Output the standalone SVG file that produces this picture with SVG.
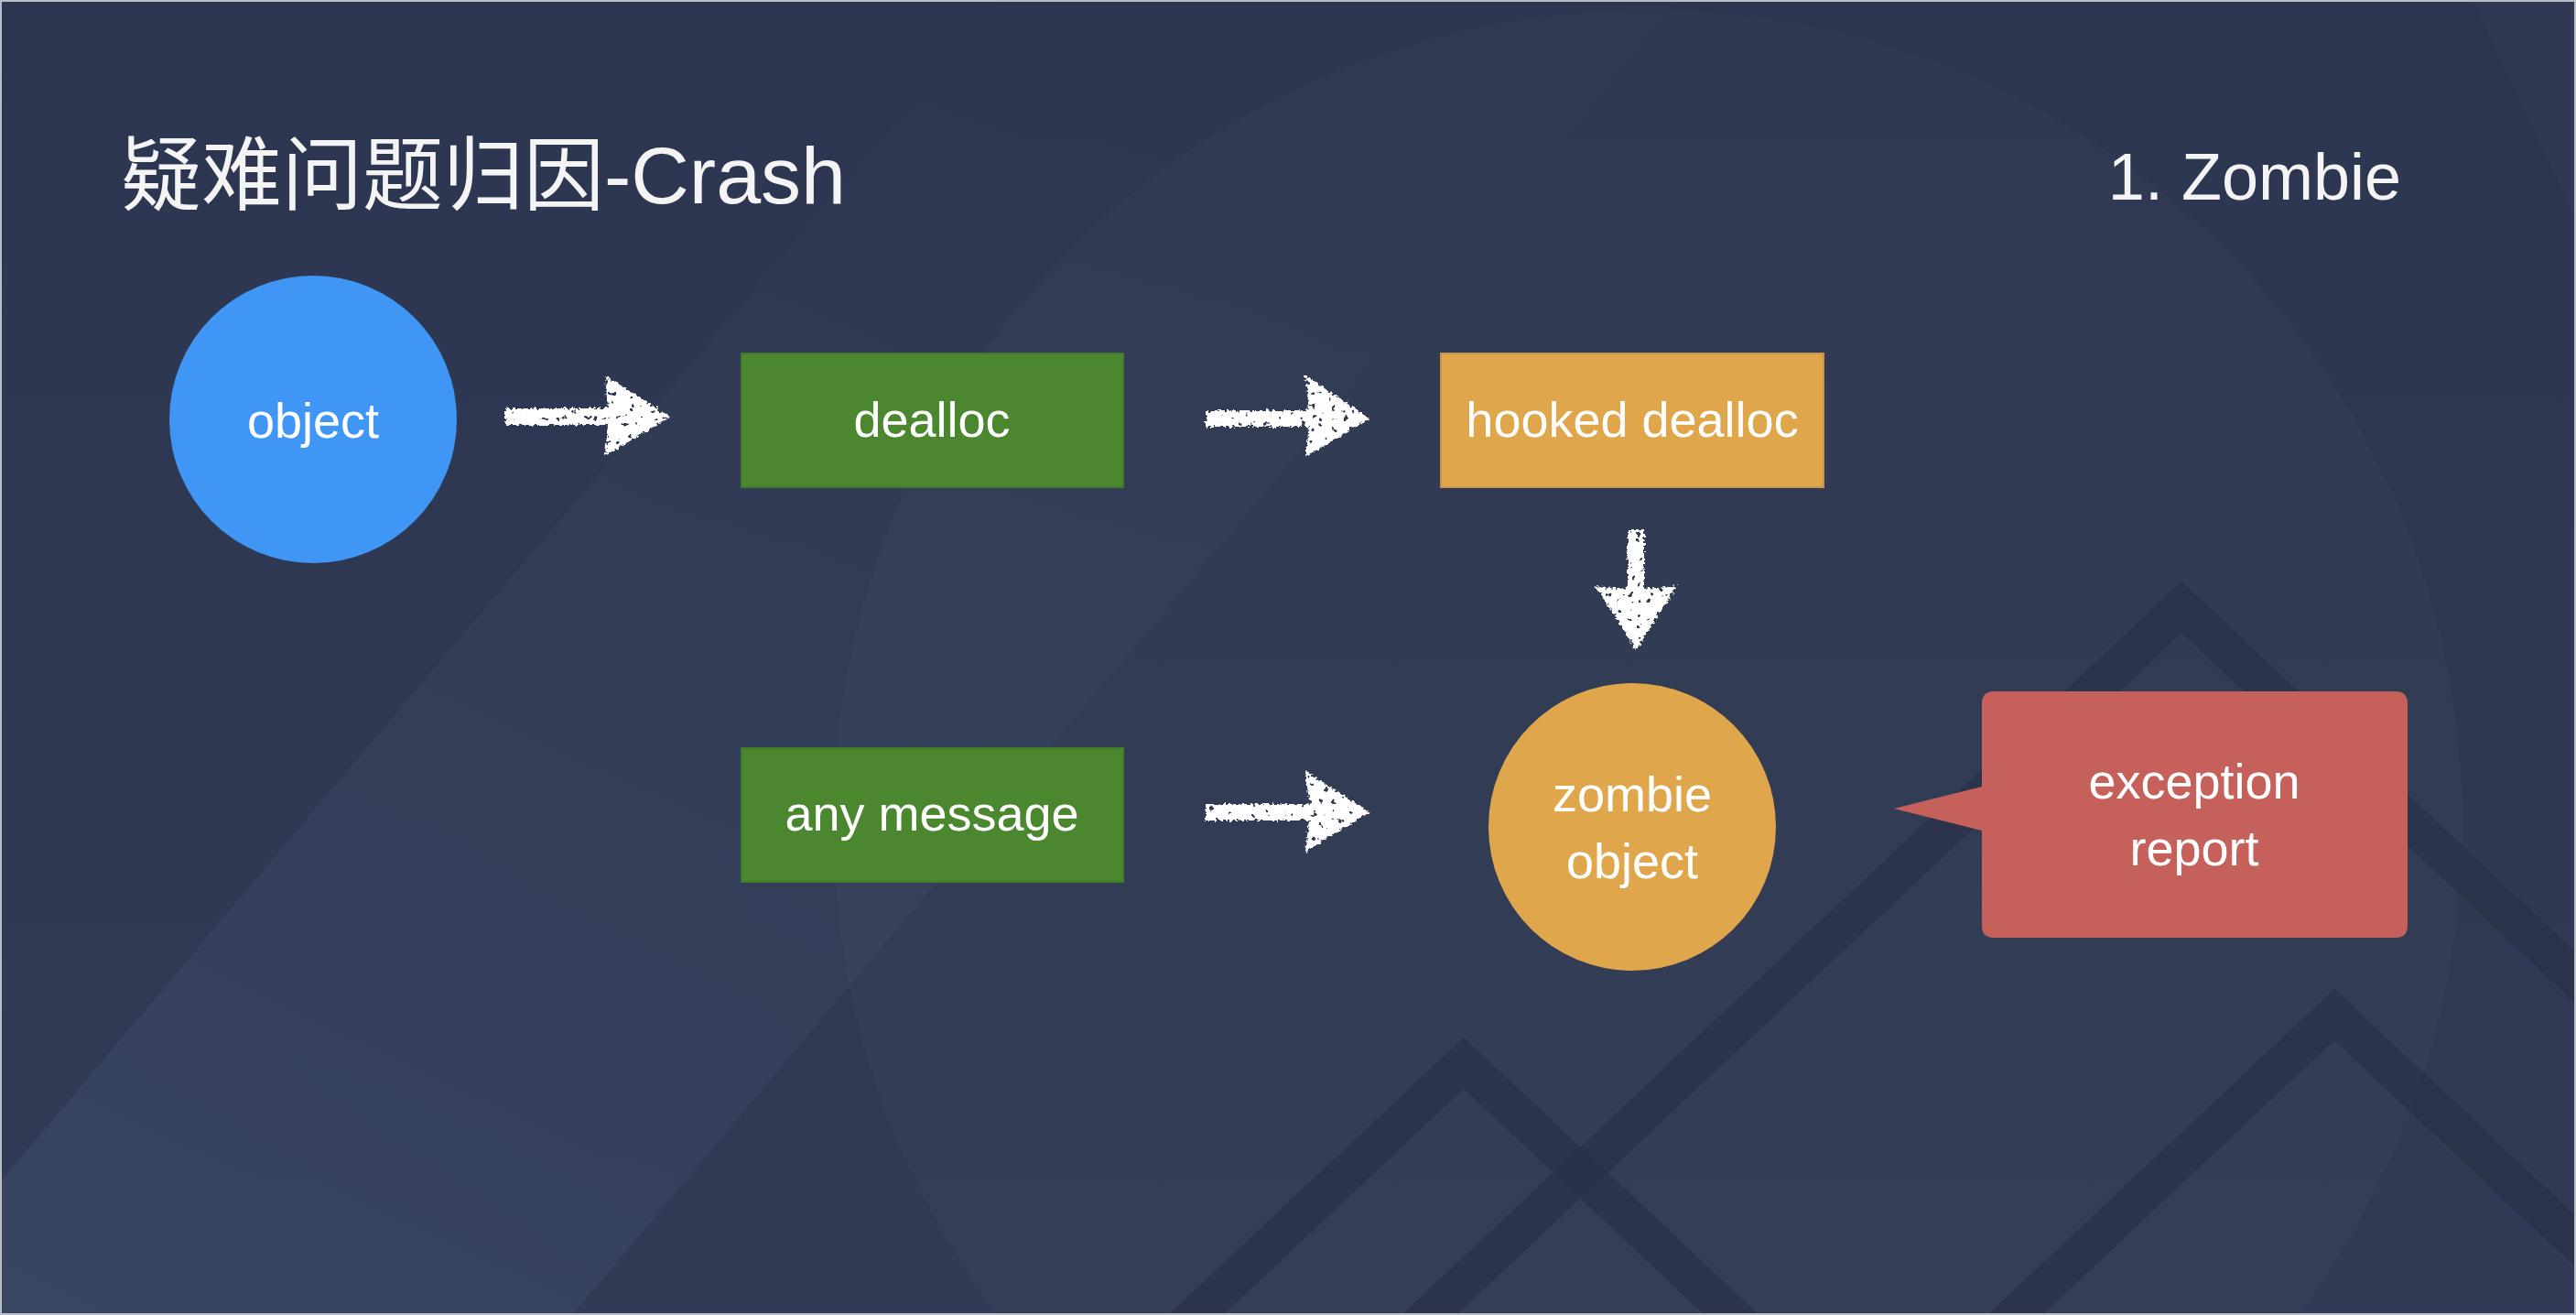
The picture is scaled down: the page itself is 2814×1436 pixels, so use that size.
<svg xmlns="http://www.w3.org/2000/svg" width="2814" height="1436" viewBox="0 0 2814 1436">
  <defs>
    <linearGradient id="bgGrad" x1="0" y1="0" x2="0" y2="1">
      <stop offset="0" stop-color="#2D3650"/>
      <stop offset="1" stop-color="#313B55"/>
    </linearGradient>
    <linearGradient id="bandGrad" x1="0" y1="1" x2="0.6" y2="0" gradientUnits="objectBoundingBox">
      <stop offset="0" stop-color="#3A4864" stop-opacity="0.85"/>
      <stop offset="0.5" stop-color="#36435E" stop-opacity="0.45"/>
      <stop offset="1" stop-color="#34405A" stop-opacity="0.05"/>
    </linearGradient>
    <filter id="chalk" x="-20%" y="-20%" width="140%" height="140%">
      <feTurbulence type="fractalNoise" baseFrequency="0.3" numOctaves="2" seed="3" result="n"/>
      <feDisplacementMap in="SourceGraphic" in2="n" scale="7" xChannelSelector="R" yChannelSelector="G" result="d"/>
      <feTurbulence type="fractalNoise" baseFrequency="0.15" numOctaves="2" seed="11" result="n2"/>
      <feColorMatrix in="n2" type="matrix" values="0 0 0 0 0  0 0 0 0 0  0 0 0 0 0  -20 0 0 0 14.5" result="holes"/>
      <feComposite in="d" in2="holes" operator="in"/>
    </filter>
    <style>
      .lbl { font-family: "Liberation Sans", "Noto Sans CJK SC", sans-serif; font-size: 54px; fill: #FFFFFF; text-anchor: middle; }
      .title { font-family: "Liberation Sans", "Noto Sans CJK SC", sans-serif; fill: #F4F4F4; }
      .chev { fill: none; stroke: #2A3249; stroke-width: 41; stroke-linejoin: miter; stroke-miterlimit: 10; opacity: 0.85; }
      .green { fill: #4A872F; stroke: #427A2A; stroke-width: 2; }
      .orange { fill: #DFA64C; stroke: #C99445; stroke-width: 2; }
      .arrow { fill: #FFFFFF; }
    </style>
  </defs>

  <!-- background -->
  <g id="background">
    <rect x="0" y="0" width="2814" height="1436" fill="url(#bgGrad)"/>
    <polygon points="0,1291 1091,0 1834,0 625,1436 0,1436" fill="url(#bandGrad)"/>
    <circle cx="1800" cy="900" r="890" fill="#FFFFFF" fill-opacity="0.014"/>
    <polygon points="2700,0 2814,0 2814,240" fill="#FFFFFF" fill-opacity="0.01"/>
    <polyline class="chev" points="1493,1500 2383,663 2900,1149"/>
    <polyline class="chev" points="1238,1500 1599,1161 1960,1500"/>
    <polyline class="chev" points="2133,1500 2550,1108 2900,1437"/>
    <rect x="1" y="1" width="2812" height="1434" fill="none" stroke="#B9BDC5" stroke-width="2"/>
  </g>

  <!-- titles -->
  <text class="title" x="132" y="222" font-size="88">疑难问题归因-Crash</text>
  <text class="title" x="2623" y="218" font-size="72" text-anchor="end">1. Zombie</text>

  <!-- connectors -->
  <g id="connectors" filter="url(#chalk)">
    <path class="arrow" d="M552,446 L664,446 L661,410 L732,455 L661,498 L664,464 L552,464 Z"/>
    <path class="arrow" d="M1317,448 L1430,448 L1426,410 L1496,457 L1426,499 L1430,466 L1317,466 Z"/>
    <path class="arrow" d="M1778,578 L1796,578 L1796,643 L1832,640 L1787,710 L1743,640 L1778,643 Z"/>
    <path class="arrow" d="M1317,878 L1430,878 L1426,842 L1496,887 L1426,930 L1430,896 L1317,896 Z"/>
  </g>

  <!-- nodes -->
  <g id="node-object">
    <circle cx="342" cy="458" r="157" fill="#4096F5"/>
    <text class="lbl" x="342" y="478">object</text>
  </g>
  <g id="node-dealloc">
    <rect class="green" x="810" y="386" width="417" height="146"/>
    <text class="lbl" x="1018" y="477">dealloc</text>
  </g>
  <g id="node-hooked-dealloc">
    <rect class="orange" x="1574" y="386" width="418" height="146"/>
    <text class="lbl" x="1783" y="477">hooked dealloc</text>
  </g>
  <g id="node-any-message">
    <rect class="green" x="810" y="817" width="417" height="146"/>
    <text class="lbl" x="1018" y="907">any message</text>
  </g>
  <g id="node-zombie-object">
    <circle cx="1783" cy="903" r="157" fill="#DFA64C"/>
    <text class="lbl" x="1783" y="886">zombie</text>
    <text class="lbl" x="1783" y="959">object</text>
  </g>
  <g id="node-exception-report">
    <path d="M2178,755 L2617,755 Q2630,755 2630,768 L2630,1011 Q2630,1024 2617,1024 L2178,1024 Q2165,1024 2165,1011 L2165,907 L2069,883 L2165,859 L2165,768 Q2165,755 2178,755 Z" fill="#C6605A"/>
    <text class="lbl" x="2397" y="872">exception</text>
    <text class="lbl" x="2397" y="945">report</text>
  </g>
</svg>
